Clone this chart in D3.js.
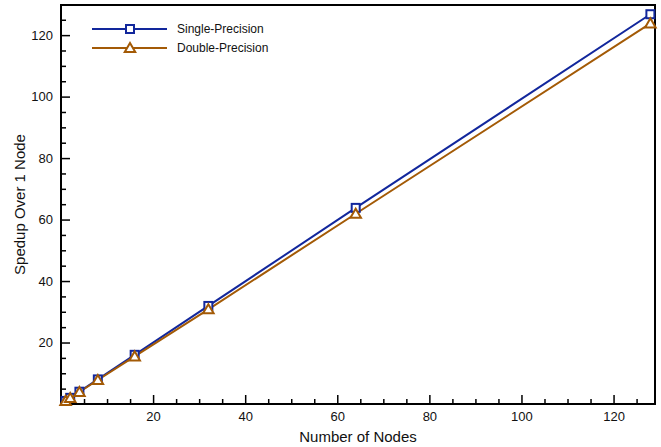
<!DOCTYPE html>
<html>
<head>
<meta charset="utf-8">
<script src="https://cdn.jsdelivr.net/npm/d3@7"></script>
<style>
  body { margin: 0; background: #fff; }
  svg { display: block; font-family: "Liberation Sans", Arial, Helvetica, sans-serif; }
</style>
</head>
<body>
<div id="chart"></div>
<script>
// Data
const nodes = [1, 2, 4, 8, 16, 32, 64, 128];
const singleSpeedup = [1, 2, 4, 8, 16, 31.9, 63.8, 126.8];
const doubleSpeedup = [1, 1.95, 3.9, 7.8, 15.5, 30.8, 61.9, 123.8];
const seriesNames = ["Single-Precision", "Double-Precision"];
const xTicks = [20, 40, 60, 80, 100, 120];
const yTicks = [20, 40, 60, 80, 100, 120];

const width = 661, height = 447;
const margin = { top: 5, right: 6, bottom: 43, left: 61 };
const innerWidth = width - margin.left - margin.right;
const innerHeight = height - margin.top - margin.bottom;

const svg = d3.select("#chart").append("svg")
  .attr("width", width)
  .attr("height", height);

const chart = svg.append("g")
  .attr("transform", `translate(${margin.left},${margin.top})`);

const x = d3.scaleLinear().domain([0, 129]).range([0, innerWidth]);
const y = d3.scaleLinear().domain([0, 129.8]).range([innerHeight, 0]);

const colors = ["#12279c", "#a35a06"];

// ticks point inward; minor every 5
const minorX = d3.range(5, 129, 5).filter(v => v % 20 !== 0);
const minorY = d3.range(5, 130, 5).filter(v => v % 20 !== 0);

const xAxis = chart.append("g").attr("transform", `translate(0,${innerHeight})`);
xAxis.call(d3.axisBottom(x).tickValues(xTicks).tickSizeInner(-9).tickSizeOuter(0).tickPadding(8));
xAxis.append("g").call(d3.axisBottom(x).tickValues(minorX).tickSize(-5).tickFormat(""));

const yAxis = chart.append("g");
yAxis.call(d3.axisLeft(y).tickValues(yTicks).tickSizeInner(-9).tickSizeOuter(0).tickPadding(8));
yAxis.append("g").call(d3.axisLeft(y).tickValues(minorY).tickSize(-5).tickFormat(""));

chart.selectAll(".domain").remove();
chart.selectAll(".tick line").attr("stroke", "#000").attr("stroke-width", 1.5);
chart.selectAll(".tick text")
  .style("font-size", "13px")
  .style("fill", "#111");

// frame
chart.append("rect")
  .attr("x", 0).attr("y", 0)
  .attr("width", innerWidth).attr("height", innerHeight)
  .attr("fill", "none")
  .attr("stroke", "#000")
  .attr("stroke-width", 2);

const series = [singleSpeedup, doubleSpeedup].map((vals, i) => ({
  name: seriesNames[i],
  color: colors[i],
  points: nodes.map((n, j) => ({ x: n, y: vals[j] }))
}));

const line = d3.line().x(d => x(d.x)).y(d => y(d.y));

function drawMarker(g, i, cx, cy, color) {
  if (i === 0) {
    g.append("rect")
      .attr("x", cx - 4).attr("y", cy - 4)
      .attr("width", 8).attr("height", 8)
      .attr("fill", "#fff").attr("stroke", color).attr("stroke-width", 2);
  } else {
    g.append("path")
      .attr("d", d3.symbol(d3.symbolTriangle, 48)())
      .attr("transform", `translate(${cx},${cy + 1})`)
      .attr("fill", "#fff").attr("stroke", color).attr("stroke-width", 2);
  }
}

series.forEach((s, i) => {
  chart.append("path")
    .datum(s.points)
    .attr("fill", "none")
    .attr("stroke", s.color)
    .attr("stroke-width", 2)
    .attr("d", line);
});
series.forEach((s, i) => {
  const g = chart.append("g");
  s.points.forEach(p => drawMarker(g, i, x(p.x), y(p.y), s.color));
});

// legend
const legend = svg.append("g");
series.forEach((s, i) => {
  const ly = 29 + i * 19;
  legend.append("line")
    .attr("x1", 92).attr("x2", 167)
    .attr("y1", ly).attr("y2", ly)
    .attr("stroke", s.color).attr("stroke-width", 2);
  drawMarker(legend, i, 130, ly, s.color);
  legend.append("text")
    .attr("x", 177).attr("y", ly)
    .attr("dominant-baseline", "central")
    .style("font-size", "12px")
    .style("fill", "#111")
    .text(s.name);
});

// axis titles
svg.append("text")
  .attr("x", margin.left + innerWidth / 2)
  .attr("y", 442)
  .attr("text-anchor", "middle")
  .style("font-size", "15px")
  .style("fill", "#111")
  .text("Number of Nodes");

svg.append("text")
  .attr("transform", `translate(25,${margin.top + innerHeight / 2}) rotate(-90)`)
  .attr("text-anchor", "middle")
  .style("font-size", "15px")
  .style("fill", "#111")
  .text("Spedup Over 1 Node");
</script>
</body>
</html>
